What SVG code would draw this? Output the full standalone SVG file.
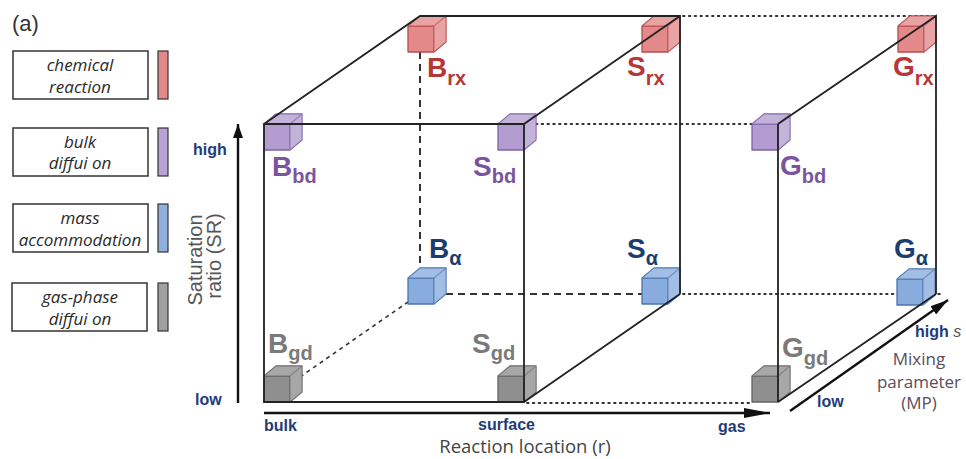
<svg xmlns="http://www.w3.org/2000/svg" xmlns:xlink="http://www.w3.org/1999/xlink" width="966" height="459" viewBox="0 0 966 459">
<style>
.edge{fill:none;stroke:#222;stroke-width:1.8}
.dash{fill:none;stroke:#333;stroke-width:2;stroke-dasharray:7 5}
.dashs{fill:none;stroke:#333;stroke-width:1.6;stroke-dasharray:4 4}
.dot{fill:none;stroke:#333;stroke-width:1.8;stroke-dasharray:1.6 4.2;stroke-linecap:round}
.axis{fill:none;stroke:#111;stroke-width:2.4}
.red{fill:#e3898a;stroke:#b84a4c}
.pur{fill:#b39dd0;stroke:#7f62a6}
.blu{fill:#88acdd;stroke:#4a74b0}
.gry{fill:#8f8f8f;stroke:#646464}
.lb{font-family:"Liberation Sans",Arial,sans-serif;font-weight:bold;font-size:28px}
.sub{font-size:20px}
.lr{fill:#b53838}.lp{fill:#7a559e}.ln{fill:#1c3e6e}.lg{fill:#7a7a7a}
.ax{font-family:"Liberation Sans",Arial,sans-serif;font-weight:bold;font-size:16px;fill:#1f3c78}
.lgbox{fill:#fff;stroke:#333;stroke-width:1.5}
.lgt{font-family:"Open Sans","Liberation Sans",sans-serif;font-style:italic;font-size:17px;fill:#2a2a2a;text-anchor:middle}
.mp{font-family:"Open Sans","Liberation Sans",sans-serif;font-size:17px;fill:#5b4d5b;text-anchor:middle}
</style>
<defs>
<symbol id="cube" overflow="visible">
<path d="M0,0h26v26h-26z M0,0 L12,-10 L38,-10 L26,0 z M26,0 L38,-10 L38,16 L26,26 z" stroke-width="1.3" stroke-linejoin="round"/>
<path d="M0,0 L12,-10 L38,-10 L26,0 z M26,0 L38,-10 L38,16 L26,26 z" fill="#fff" fill-opacity="0.22" stroke="none"/>
</symbol>
<marker id="ah" viewBox="0 0 14 10" refX="14" refY="5" markerWidth="14" markerHeight="10" markerUnits="userSpaceOnUse" orient="auto">
<path d="M0,0 L14,5 L0,10 z" fill="#111"/>
</marker>
<marker id="ahl" viewBox="0 0 26 10" refX="26" refY="5" markerWidth="26" markerHeight="10" markerUnits="userSpaceOnUse" orient="auto">
<path d="M0,0 L26,5 L0,10 z" fill="#111"/>
</marker>
<marker id="ahm" viewBox="0 0 18 10" refX="18" refY="5" markerWidth="18" markerHeight="10" markerUnits="userSpaceOnUse" orient="auto">
<path d="M0,0 L18,5 L0,10 z" fill="#111"/>
</marker>
</defs>
<rect width="966" height="459" fill="#fff"/>

<g id="legend">
<text x="12" y="31" font-family="Liberation Sans,Arial,sans-serif" font-size="22" fill="#333">(a)</text>
<g id="leg-rx">
<rect class="lgbox" x="13" y="51" width="135" height="48"/>
<text class="lgt" x="80" y="71">chemical</text>
<text class="lgt" x="80" y="93">reaction</text>
<rect x="158" y="51" width="10" height="48" fill="#e3898a" stroke="#333" stroke-width="1.2"/>
</g>
<g id="leg-bd">
<rect class="lgbox" x="13" y="128" width="135" height="48"/>
<text class="lgt" x="80" y="148">bulk</text>
<text class="lgt" x="80" y="169">diffui on</text>
<rect x="158" y="128" width="10" height="48" fill="#b8a4d4" stroke="#333" stroke-width="1.2"/>
</g>
<g id="leg-a">
<rect class="lgbox" x="13" y="204" width="135" height="48"/>
<text class="lgt" x="80" y="224">mass</text>
<text class="lgt" x="80" y="246">accommodation</text>
<rect x="158" y="204" width="10" height="48" fill="#8fb0dc" stroke="#333" stroke-width="1.2"/>
</g>
<g id="leg-gd">
<rect class="lgbox" x="12" y="283" width="135" height="48"/>
<text class="lgt" x="80" y="303">gas-phase</text>
<text class="lgt" x="80" y="325">diffui on</text>
<rect x="158" y="283" width="10" height="48" fill="#a0a0a0" stroke="#333" stroke-width="1.2"/>
</g>
</g>

<g id="connectors">
<path class="dash" d="M420,52 V268 M446,294 H642"/>
<path class="dashs" d="M300,377 L408,302"/>
<path class="dot" d="M683,16 H938 M530,124 H752 M683,294 H940 M527,403 H752"/>
</g>

<g id="nodes">
<g id="Brx"><use href="#cube" x="408" y="26" class="red"/><text class="lb lr" x="427" y="77">B<tspan class="sub" dy="8">rx</tspan></text></g>
<g id="Srx"><use href="#cube" x="642" y="26" class="red"/><text class="lb lr" x="627" y="76">S<tspan class="sub" dy="9">rx</tspan></text></g>
<g id="Grx"><use href="#cube" x="898" y="26" class="red"/><text class="lb lr" x="893" y="76">G<tspan class="sub" dy="9">rx</tspan></text></g>
<g id="Bbd"><use href="#cube" x="264" y="124" class="pur"/><text class="lb lp" x="272" y="176">B<tspan class="sub" dy="7">bd</tspan></text></g>
<g id="Sbd"><use href="#cube" x="498" y="124" class="pur"/><text class="lb lp" x="473" y="176">S<tspan class="sub" dy="7">bd</tspan></text></g>
<g id="Gbd"><use href="#cube" x="752" y="124" class="pur"/><text class="lb lp" x="780" y="175">G<tspan class="sub" dy="8">bd</tspan></text></g>
<g id="Ba"><use href="#cube" x="408" y="278" class="blu"/><text class="lb ln" x="429" y="258">B<tspan class="sub" dy="7">α</tspan></text></g>
<g id="Sa"><use href="#cube" x="642" y="278" class="blu"/><text class="lb ln" x="627" y="258">S<tspan class="sub" dy="7">α</tspan></text></g>
<g id="Ga"><use href="#cube" x="897" y="279" class="blu"/><text class="lb ln" x="894" y="258">G<tspan class="sub" dy="7">α</tspan></text></g>
<g id="Bgd"><use href="#cube" x="264" y="376" class="gry"/><text class="lb lg" x="268" y="353">B<tspan class="sub" dy="7">gd</tspan></text></g>
<g id="Sgd"><use href="#cube" x="498" y="376" class="gry"/><text class="lb lg" x="472" y="353">S<tspan class="sub" dy="7">gd</tspan></text></g>
<g id="Ggd"><use href="#cube" x="752" y="376" class="gry"/><text class="lb lg" x="782" y="357">G<tspan class="sub" dy="8">gd</tspan></text></g>
</g>

<g id="edges">
<path class="edge" d="M264,124 H524 V402 H264 Z M264,124 L420,16 H680 V294 M524,124 L680,16 M524,402 L680,294"/>
<path class="edge" d="M778,124 V402 M778,124 L936,16 V294 M778,402 L936,294"/>
</g>

<g id="axes">
<line class="axis" x1="238" y1="403" x2="238" y2="124" marker-end="url(#ah)"/>
<line class="axis" x1="264" y1="413" x2="770" y2="413" marker-end="url(#ahl)"/>
<line class="axis" x1="790" y1="411" x2="948" y2="300" marker-end="url(#ahm)"/>
<text class="ax" x="193" y="155">high</text>
<text class="ax" x="195" y="405">low</text>
<text class="ax" x="264" y="431">bulk</text>
<text class="ax" x="478" y="430">surface</text>
<text class="ax" x="718" y="432">gas</text>
<text class="ax" x="817" y="407">low</text>
<text class="ax" x="915" y="337">high<tspan font-weight="normal" font-style="italic" fill="#555"> s</tspan></text>
<text x="525" y="453" font-family="Open Sans,Liberation Sans,sans-serif" font-size="18.5" fill="#444" text-anchor="middle">Reaction location (r)</text>
<text transform="translate(202,260) rotate(-90)" font-family="Liberation Sans,Arial,sans-serif" font-size="20" fill="#555" text-anchor="middle">Saturation</text>
<text transform="translate(221,256) rotate(-90)" font-family="Liberation Sans,Arial,sans-serif" font-size="20" fill="#555" text-anchor="middle">ratio (SR)</text>
<text class="mp" x="919" y="365">Mixing</text>
<text class="mp" x="919" y="388">parameter</text>
<text class="mp" x="919" y="409">(MP)</text>
</g>
</svg>
